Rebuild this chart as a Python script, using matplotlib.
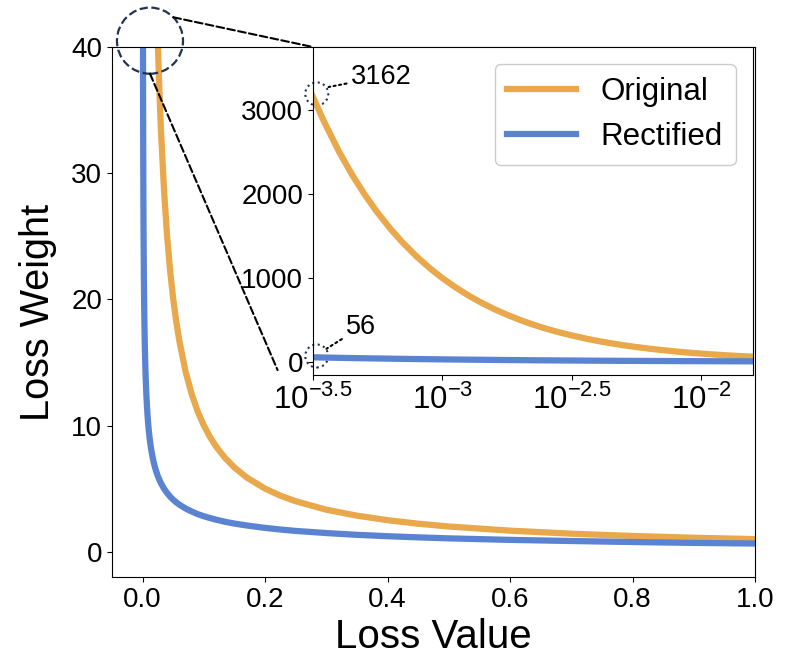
import matplotlib
matplotlib.use('Agg')
import matplotlib.pyplot as plt
from matplotlib.patches import Ellipse, ConnectionPatch
import numpy as np

plt.rcParams['font.family'] = ['Liberation Sans', 'DejaVu Sans']
plt.rcParams['mathtext.fontset'] = 'custom'
plt.rcParams['mathtext.rm'] = 'Liberation Sans'
plt.rcParams['mathtext.it'] = 'Liberation Sans:italic'

# values
loss_value = [0.000316, 0.00035, 0.0004, 0.00045, 0.0005, 0.00056, 0.00063, 0.0007,
              0.0008, 0.0009, 0.001, 0.00112, 0.00126, 0.0014, 0.0016, 0.0018,
              0.002, 0.00225, 0.0025, 0.0028, 0.0032, 0.0036, 0.004, 0.0045,
              0.005, 0.0056, 0.0063, 0.007, 0.008, 0.009, 0.01, 0.0112, 0.0126,
              0.014, 0.016, 0.018, 0.02, 0.022, 0.025, 0.028, 0.03, 0.035, 0.04,
              0.045, 0.05, 0.055, 0.06, 0.07, 0.08, 0.09, 0.1, 0.11, 0.12, 0.135,
              0.15, 0.17, 0.2, 0.225, 0.25, 0.3, 0.35, 0.4, 0.45, 0.5, 0.6, 0.7,
              0.8, 0.9, 1.0]
w_original = [3162, 2857, 2500, 2222, 2000, 1786, 1587, 1429,
              1250, 1111, 1000, 893, 794, 714, 625, 556,
              500, 444, 400, 357, 313, 278, 250, 222,
              200, 179, 159, 143, 125, 111, 100, 89.3, 79.4,
              71.4, 62.5, 55.6, 50, 45.5, 40, 35.7, 33.3, 28.6, 25,
              22.2, 20, 18.2, 16.7, 14.3, 12.5, 11.1, 10, 9.09, 8.33, 7.41,
              6.67, 5.88, 5.0, 4.44, 4.0, 3.33, 2.86, 2.5, 2.22, 2.0, 1.67, 1.43,
              1.25, 1.11, 1.0]
w_rectified = [55.9, 53.1, 49.65, 46.8, 44.37, 41.9, 39.49, 37.45,
               35.01, 32.98, 31.27, 29.53, 27.82, 26.38, 24.65, 23.22,
               22.01, 20.73, 19.65, 18.55, 17.33, 16.32, 15.46, 14.56,
               13.79, 13.01, 12.25, 11.6, 10.83, 10.19, 9.65, 9.1, 8.56,
               8.1, 7.56, 7.1, 6.72, 6.39, 5.97, 5.63, 5.42, 4.99, 4.65,
               4.36, 4.12, 3.91, 3.73, 3.43, 3.19, 2.98, 2.81, 2.67, 2.54, 2.37,
               2.23, 2.08, 1.89, 1.76, 1.65, 1.48, 1.34, 1.23, 1.14, 1.06, 0.94, 0.85,
               0.77, 0.70, 0.65]
main_xticks = [0.0, 0.2, 0.4, 0.6, 0.8, 1.0]
main_yticks = [0, 10, 20, 30, 40]
inset_xticks = [10 ** -3.5, 10 ** -3, 10 ** -2.5, 10 ** -2]
inset_xlabels = [r'$10^{-3.5}$', r'$10^{-3}$', r'$10^{-2.5}$', r'$10^{-2}$']
inset_yticks = [0, 1000, 2000, 3000]
note_top = '3162'
note_low = '56'

orange = '#E8A84B'
blue = '#5A83D1'
navy = '#23344F'

fig = plt.figure(figsize=(8, 6.57), dpi=100)
ax = fig.add_axes([0.14, 0.1218, 0.804, 0.8067])
ax.plot(loss_value, w_original, color=orange, lw=4.5, label='Original')
ax.plot(loss_value, w_rectified, color=blue, lw=4.5, label='Rectified')
ax.set_xlim(-0.05, 1.0)
ax.set_ylim(-2, 40)
ax.set_xticks(main_xticks)
ax.set_xticklabels(['%.1f' % t for t in main_xticks])
ax.set_yticks(main_yticks)
ax.tick_params(labelsize=20)
ax.set_xlabel('Loss Value', fontsize=29, labelpad=4)
ax.set_ylabel('Loss Weight', fontsize=28.5, labelpad=10)

# zoom circle on the main axes
cx, cy = 0.012, 40.5
cw, ch = 66 / 612, 66 / 12.6
ax.add_patch(Ellipse((cx, cy), cw, ch, fill=False, ls='--', lw=1.6,
                     edgecolor=navy, clip_on=False, zorder=5))

ax_in = fig.add_axes([0.391, 0.4292, 0.55, 0.4993])
ax_in.plot(loss_value, w_original, color=orange, lw=4.5, label='Original')
ax_in.plot(loss_value, w_rectified, color=blue, lw=4.5, label='Rectified')
ax_in.set_xscale('log')
ax_in.set_xlim(10 ** -3.5, 10 ** -1.8)
ax_in.set_ylim(-155, 3750)
ax_in.set_xticks(inset_xticks)
ax_in.set_xticklabels(inset_xlabels)
ax_in.xaxis.set_minor_locator(matplotlib.ticker.NullLocator())
ax_in.set_yticks(inset_yticks)
ax_in.tick_params(axis='y', labelsize=20)
ax_in.tick_params(axis='x', labelsize=22.5)
ax_in.legend(loc='upper right', fontsize=22.5, handlelength=2.2,
             borderaxespad=0.55, fancybox=True, framealpha=1)

# dotted circles around the endpoints
for yc in (0.857, 0.058):
    ax_in.add_patch(Ellipse((0.009, yc), 23 / 440, 23 / 328, transform=ax_in.transAxes,
                            fill=False, ls=':', lw=1.5, edgecolor=navy, clip_on=False))
ax_in.annotate(note_top, xy=(0.036, 0.878), xycoords='axes fraction',
               xytext=(0.086, 0.909), textcoords='axes fraction', fontsize=19.5,
               ha='left', va='center',
               arrowprops=dict(arrowstyle='-', ls=':', lw=1.5, color='black', shrinkA=1, shrinkB=0))
ax_in.annotate(note_low, xy=(0.031, 0.08), xycoords='axes fraction',
               xytext=(0.075, 0.146), textcoords='axes fraction', fontsize=19.5,
               ha='left', va='center',
               arrowprops=dict(arrowstyle='-', ls=':', lw=1.5, color='black', shrinkA=1, shrinkB=0))

# dashed connectors from the zoom circle to the inset
a = np.deg2rad(45)
p_top = (cx + cw / 2 * np.cos(a), cy + ch / 2 * np.sin(a))
p_low = (cx, cy - ch / 2)
for pa, pb in ((p_top, (0.0, 1.0)), (p_low, (-0.08, 0.015))):
    con = ConnectionPatch(xyA=pa, coordsA=ax.transData, xyB=pb, coordsB=ax_in.transAxes,
                          ls='--', lw=1.5, color='black', zorder=6)
    fig.add_artist(con)

plt.savefig('out.png', dpi=100)
